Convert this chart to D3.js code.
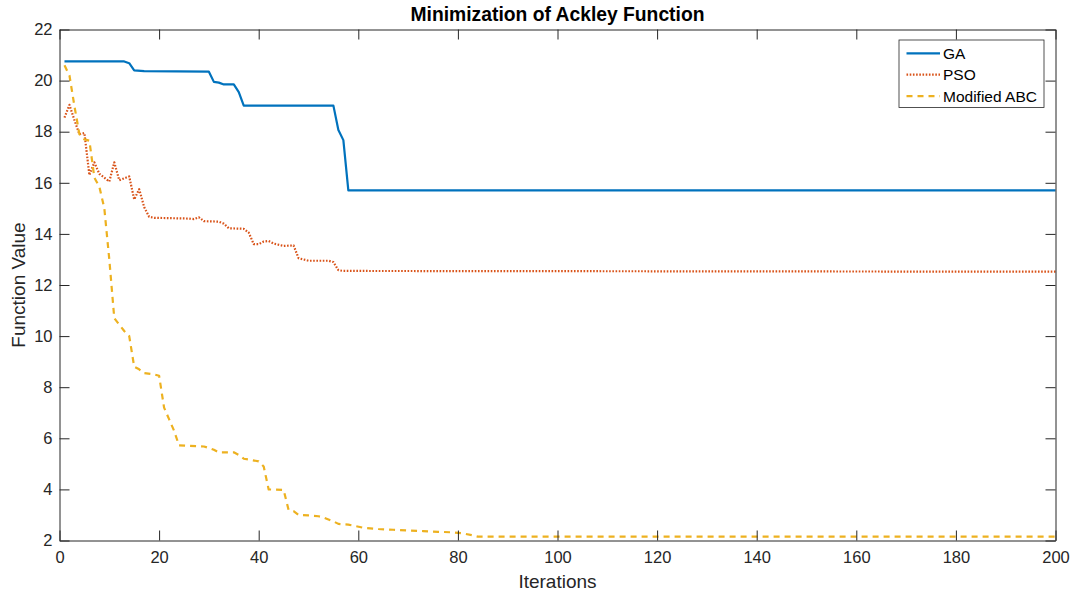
<!DOCTYPE html>
<html>
<head>
<meta charset="utf-8">
<script src="https://cdn.jsdelivr.net/npm/d3@7"></script>
<style>
  html, body { margin: 0; padding: 0; background: #fff; }
  svg text { font-family: "Liberation Sans", Arial, Helvetica, sans-serif; fill: #262626; }
</style>
</head>
<body>
<div id="vis"></div>
<script>
// Minimización de Ackley: GA vs PSO vs ABC modificado
const width = 1073, height = 597;
const margin = { top: 29.5, right: 17.5, bottom: 56.5, left: 59.5 };

// [iteración, valor] en los puntos donde cambia la curva
const GA = [[1,20.75],[13,20.75],[14,20.68],[15,20.4],[17,20.37],[30,20.35],[31,19.95],[32,19.92],[33,19.85],[35,19.85],[36,19.55],[37,19.02],[55,19.02],[56,18.07],[57,17.67],[58,15.7],[200,15.7]];

const PSO = [[1,18.55],[2,19.05],[3,18.45],[4,17.9],[5,17.95],[6,16.3],[7,16.8],[8,16.35],[9,16.2],[10,16.05],[11,16.8],[12,16.1],[14,16.25],[15,15.35],[16,15.75],[17,15.05],[18,14.67],[19,14.63],[26,14.6],[27,14.58],[28,14.65],[29,14.5],[32,14.48],[33,14.4],[34,14.22],[37,14.2],[38,14.05],[39,13.6],[40,13.6],[41,13.7],[42,13.72],[43,13.62],[45,13.53],[47,13.55],[48,13.05],[50,12.95],[54,12.95],[55,12.9],[56,12.58],[57,12.55],[200,12.52]];

const ABC = [[1,20.6],[2,20.2],[3,19.0],[4,17.9],[5,17.7],[6,17.65],[7,16.2],[8,15.85],[9,15.0],[10,13.0],[11,10.7],[12,10.45],[13,10.2],[14,10.0],[15,8.8],[16,8.7],[17,8.55],[19,8.5],[20,8.45],[21,7.2],[22,6.75],[23,6.3],[24,5.72],[29,5.68],[30,5.62],[31,5.55],[32,5.45],[35,5.45],[36,5.35],[37,5.2],[40,5.1],[41,4.9],[42,4.0],[45,3.98],[46,3.2],[47,3.15],[48,3.0],[50,2.98],[52,2.95],[53,2.9],[55,2.75],[56,2.65],[58,2.62],[59,2.58],[61,2.5],[64,2.45],[67,2.42],[70,2.39],[73,2.37],[76,2.34],[79,2.32],[81,2.28],[83,2.2],[84,2.15],[200,2.15]];

const X_TICKS = d3.range(0, 201, 20);
const Y_TICKS = d3.range(2, 23, 2);

const SERIES = [
  { name: "GA",           data: GA,  color: "#0072BD", dash: null,      w: 2.2 },
  { name: "PSO",          data: PSO, color: "#D95319", dash: "1.6,1.6", w: 2.2 },
  { name: "Modified ABC", data: ABC, color: "#EDB120", dash: "6,5",     w: 2.2 }
];

const svg = d3.select("#vis").append("svg")
  .attr("width", width).attr("height", height);

const x = d3.scaleLinear().domain([0, 200]).range([margin.left, width - margin.right]);
const y = d3.scaleLinear().domain([2, 22]).range([height - margin.bottom, margin.top]);

const axisCol = "#262626", tickLen = 10, tickFont = 16.5;

// líneas
const line = d3.line().x(d => x(d[0])).y(d => y(d[1]));
SERIES.forEach(s => {
  svg.append("path")
    .datum(s.data)
    .attr("fill", "none")
    .attr("stroke", s.color)
    .attr("stroke-width", s.w)
    .attr("stroke-dasharray", s.dash)
    .attr("stroke-linejoin", "round")
    .attr("d", line);
});

// ejes (caja completa con ticks hacia dentro)
const fmt = d3.format("d");
const gx = svg.append("g").attr("transform", `translate(0,${y(2)})`)
  .call(d3.axisBottom(x).tickValues(X_TICKS).tickFormat(fmt).tickSizeInner(-tickLen).tickSizeOuter(0).tickPadding(11));
const gxTop = svg.append("g").attr("transform", `translate(0,${y(22)})`)
  .call(d3.axisTop(x).tickValues(X_TICKS).tickFormat("").tickSizeInner(-tickLen).tickSizeOuter(0));
const gy = svg.append("g").attr("transform", `translate(${x(0)},0)`)
  .call(d3.axisLeft(y).tickValues(Y_TICKS).tickFormat(fmt).tickSizeInner(-tickLen).tickSizeOuter(0).tickPadding(7));
const gyR = svg.append("g").attr("transform", `translate(${x(200)},0)`)
  .call(d3.axisRight(y).tickValues(Y_TICKS).tickFormat("").tickSizeInner(-tickLen).tickSizeOuter(0));

[gx, gxTop, gy, gyR].forEach(g => {
  g.attr("font-size", tickFont).attr("font-family", null);
  g.select(".domain").attr("stroke", axisCol).attr("stroke-width", 1);
  g.selectAll(".tick line").attr("stroke", axisCol).attr("stroke-width", 1);
  g.selectAll(".tick text").attr("font-size", tickFont).attr("fill", axisCol);
});
gx.selectAll(".tick text").attr("dy", "0.71em");

// títulos
svg.append("text")
  .attr("x", (x(0) + x(200)) / 2).attr("y", 21)
  .attr("text-anchor", "middle")
  .attr("font-size", 19.3).attr("font-weight", "bold")
  .style("fill", "#000")
  .text("Minimization of Ackley Function");

svg.append("text")
  .attr("x", (x(0) + x(200)) / 2).attr("y", 588)
  .attr("text-anchor", "middle")
  .attr("font-size", 19)
  .text("Iterations");

svg.append("text")
  .attr("transform", `translate(25,${(y(2) + y(22)) / 2}) rotate(-90)`)
  .attr("text-anchor", "middle")
  .attr("font-size", 19)
  .text("Function Value");

// leyenda
const lg = svg.append("g").attr("transform", "translate(899,40)");
lg.append("rect")
  .attr("width", 145).attr("height", 67.5)
  .attr("fill", "#fff").attr("stroke", axisCol).attr("stroke-width", 0.8);

const item = lg.selectAll("g.lg").data(SERIES).enter().append("g")
  .attr("class", "lg")
  .attr("transform", (_, i) => `translate(0,${13.3 + i * 21.4})`);

item.append("line")
  .attr("x1", 7.5).attr("x2", 41).attr("y1", 0).attr("y2", 0)
  .attr("stroke", d => d.color)
  .attr("stroke-width", d => d.w)
  .attr("stroke-dasharray", d => d.dash);

item.append("text")
  .attr("x", 44).attr("y", 0)
  .attr("dy", "0.36em")
  .attr("font-size", 15.5)
  .style("fill", "#000")
  .text(d => d.name);
</script>
</body>
</html>
